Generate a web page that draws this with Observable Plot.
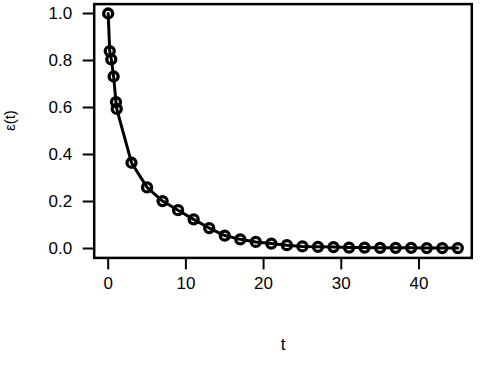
<!DOCTYPE html>
<html>
<head>
<meta charset="utf-8">
<script src="https://cdn.jsdelivr.net/npm/d3@7"></script>
<script src="https://cdn.jsdelivr.net/npm/@observablehq/plot@0.6"></script>
<style>
  html, body { margin: 0; padding: 0; background: #fff; }
  #chart { width: 484px; height: 382px; overflow: hidden; }
</style>
</head>
<body>
<div id="chart"></div>
<script>
const times = [0, 0.2, 0.4, 0.7, 1.0, 1.1, 3, 5, 7, 9, 11, 13, 15, 17, 19, 21, 23, 25, 27, 29, 31, 33, 35, 37, 39, 41, 43, 45];
const eps = [1.0, 0.84, 0.805, 0.732, 0.623, 0.594, 0.365, 0.26, 0.202, 0.163, 0.124, 0.087, 0.055, 0.039, 0.028, 0.021, 0.014, 0.009, 0.007, 0.006, 0.004, 0.004, 0.003, 0.003, 0.003, 0.002, 0.002, 0.002];
const xTicks = [0, 10, 20, 30, 40];
const yTicks = [0, 0.2, 0.4, 0.6, 0.8, 1.0];
const xLabel = "t";
const yLabel = "ε(t)";

const data = times.map((t, i) => ({t, e: eps[i]}));

const chart = Plot.plot({
  width: 484,
  height: 382,
  marginLeft: 93.7,
  marginRight: 12.7,
  marginTop: 3.6,
  marginBottom: 124.6,
  style: {fontFamily: "'Liberation Sans', Arial, sans-serif", fontSize: "17px", color: "#000", background: "#fff"},
  x: {domain: [-1.8, 46.8]},
  y: {domain: [-0.04, 1.04]},
  marks: [
    Plot.axisX({ticks: xTicks, tickSize: 12, tickPadding: 7, strokeWidth: 2, tickFormat: d3.format("d"),
      label: xLabel, labelAnchor: "center", labelOffset: 92, labelArrow: false, fontSize: 17}),
    Plot.axisY({ticks: yTicks, tickSize: 11, tickPadding: 11, strokeWidth: 2, tickFormat: d3.format(".1f"),
      label: null, fontSize: 17}),
    Plot.text([yLabel], {frameAnchor: "left", dx: -84, rotate: -90, fontSize: 15, text: d => d}),
    Plot.frame({stroke: "#000", strokeWidth: 2.5}),
    Plot.line(data, {x: "t", y: "e", stroke: "#000", strokeWidth: 3}),
    Plot.dot(data, {x: "t", y: "e", r: 4.5, stroke: "#000", strokeWidth: 3.3, fill: "none"})
  ]
});
document.getElementById("chart").appendChild(chart);
</script>
</body>
</html>
